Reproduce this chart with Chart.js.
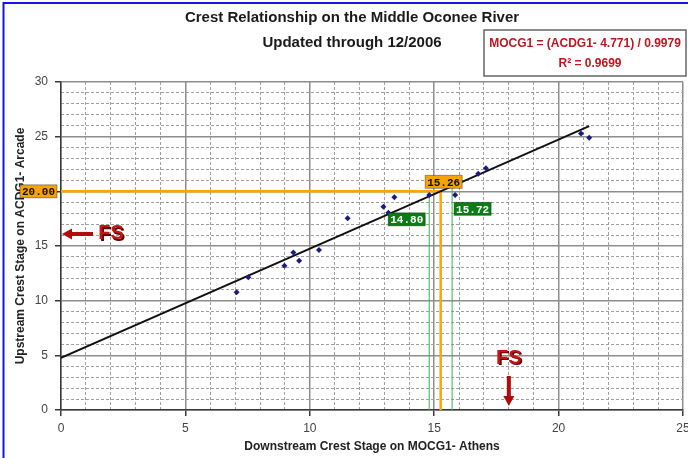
<!DOCTYPE html>
<html>
<head>
<meta charset="utf-8">
<script src="https://cdn.jsdelivr.net/npm/chart.js@4/dist/chart.umd.min.js"></script>
<style>
  html, body { margin: 0; padding: 0; background: #fff; }
  #wrap { width: 688px; height: 458px; position: relative; }
</style>
</head>
<body>
<div id="wrap"><canvas id="grafico" width="688" height="458"></canvas></div>
<script>
// ===============================
// DADOS
// ===============================

const jusante  = [7.06, 7.53, 8.98, 9.34, 9.57, 10.37, 11.52, 12.96, 13.16, 13.40, 14.80, 15.84, 16.77, 17.08, 20.90, 21.23];
const montante = [10.77, 12.14, 13.20, 14.40, 13.66, 14.64, 17.54, 18.60, 18.05, 19.46, 19.67, 19.67, 21.60, 22.10, 25.30, 24.90];

// reta de regressão (extremos)
const retaX = [0, 21.23];
const retaY = [4.77, 25.96];

// leitura em 20.00 ft
const laranjaX = [0, 15.26, 15.26];
const laranjaY = [20, 20, 0];

// limites verdes
const verde1X = [14.80, 14.80];
const verde1Y = [0, 19.54];
const verde2X = [15.72, 15.72];
const verde2Y = [0, 20.46];

// flood stage
const fsMontante = 16.1;
const fsJusante = 18;

const titulo = ["Crest Relationship on the Middle Oconee River", "Updated through 12/2006"];
const equacao = ["MOCG1 = (ACDG1- 4.771) / 0.9979", "R² = 0.9699"];

const pares = (xs, ys) => xs.map((v, i) => ({ x: v, y: ys[i] }));

// ===============================
// PLUGIN DE ANOTAÇÕES
// ===============================

function caixa(ctx, texto, cx, cy, fundo, cor) {
    ctx.save();
    ctx.font = "bold 11px 'Liberation Mono', monospace";
    const w = ctx.measureText(texto).width + 4;
    const h = 13;
    ctx.fillStyle = fundo;
    ctx.fillRect(cx - w / 2, cy - h / 2, w, h);
    ctx.strokeStyle = "rgba(0,0,0,0.35)";
    ctx.lineWidth = 1;
    ctx.strokeRect(cx - w / 2, cy - h / 2, w, h);
    ctx.fillStyle = cor;
    ctx.textAlign = "center";
    ctx.textBaseline = "middle";
    ctx.fillText(texto, cx, cy + 1);
    ctx.restore();
}

function fsTexto(ctx, cx, cy) {
    ctx.save();
    ctx.font = "bold 20px 'Liberation Sans', Arial, sans-serif";
    ctx.textAlign = "center";
    ctx.textBaseline = "middle";
    ctx.fillStyle = "#5a0000";
    ctx.fillText("FS", cx + 1.5, cy + 1.5);
    ctx.fillStyle = "#c41414";
    ctx.fillText("FS", cx, cy);
    ctx.restore();
}

const anotacoes = {
    id: "anotacoes",
    afterDatasetsDraw(chart) {
        const { ctx, scales: { x, y } } = chart;

        caixa(ctx, "20.00", x.getPixelForValue(0) - 22.5, y.getPixelForValue(20), "#f5a300", "#111");
        caixa(ctx, "15.26", x.getPixelForValue(15.26) + 3, y.getPixelForValue(20) - 9.5, "#f5a300", "#111");
        caixa(ctx, "14.80", x.getPixelForValue(14.80) - 22.5, y.getPixelForValue(20) + 28, "#0a7d14", "#fff");
        caixa(ctx, "15.72", x.getPixelForValue(15.72) + 20.5, y.getPixelForValue(20) + 17.5, "#0a7d14", "#fff");

        ctx.save();
        ctx.fillStyle = "#b00c0c";
        ctx.strokeStyle = "#b00c0c";
        // seta esquerda
        const ly = y.getPixelForValue(fsMontante);
        const lx0 = x.getPixelForValue(0) + 1;
        ctx.fillRect(lx0 + 9, ly - 2, 22, 4);
        ctx.beginPath();
        ctx.moveTo(lx0, ly);
        ctx.lineTo(lx0 + 10, ly - 5.5);
        ctx.lineTo(lx0 + 10, ly + 5.5);
        ctx.closePath();
        ctx.fill();
        // seta inferior
        const bx = x.getPixelForValue(fsJusante);
        const by = y.getPixelForValue(0) - 4;
        ctx.fillRect(bx - 2, by - 30, 4, 22);
        ctx.beginPath();
        ctx.moveTo(bx, by);
        ctx.lineTo(bx - 5.5, by - 10);
        ctx.lineTo(bx + 5.5, by - 10);
        ctx.closePath();
        ctx.fill();
        ctx.restore();

        fsTexto(ctx, lx0 + 49, ly);
        fsTexto(ctx, bx, by - 48);
    },
    afterDraw(chart) {
        const { ctx } = chart;
        ctx.save();
        // moldura azul
        ctx.strokeStyle = "#1414e6";
        ctx.lineWidth = 2;
        ctx.strokeRect(3.5, 3, 720, 480);

        // título
        ctx.fillStyle = "#1a1a1a";
        ctx.font = "bold 15px 'Liberation Sans', Arial, sans-serif";
        ctx.textAlign = "center";
        ctx.textBaseline = "middle";
        ctx.fillText(titulo[0], 352, 18);
        ctx.fillText(titulo[1], 352, 43);

        // caixa da equação
        ctx.fillStyle = "#fff";
        ctx.fillRect(484, 30, 202, 46);
        ctx.strokeStyle = "#666";
        ctx.lineWidth = 1.5;
        ctx.strokeRect(484, 30, 202, 46);
        ctx.fillStyle = "#c3141e";
        ctx.font = "bold 12px 'Liberation Sans', Arial, sans-serif";
        ctx.fillText(equacao[0], 585, 44);
        ctx.fillText(equacao[1], 590, 64);
        ctx.restore();
    }
};

// ===============================
// GRÁFICO
// ===============================

const corMaior = "#8e8e8e";
const corMenor = "#a0a0a0";
const corEixo = "#3a3a3a";
const fonteEixo = { family: "'Liberation Sans', Arial, sans-serif", size: 12 };

new Chart(document.getElementById("grafico"), {
    type: "scatter",
    data: {
        datasets: [
            {
                label: "Crests",
                data: pares(jusante, montante),
                pointStyle: "rectRot",
                pointRadius: 3,
                backgroundColor: "#1c1c80",
                borderWidth: 0
            },
            {
                label: "Regressão",
                data: pares(retaX, retaY),
                showLine: true,
                borderColor: "#111",
                borderWidth: 1.8,
                pointRadius: 0
            },
            {
                label: "20.00",
                data: pares(laranjaX, laranjaY),
                showLine: true,
                borderColor: "#ffa500",
                borderWidth: 2.5,
                pointRadius: 0
            },
            {
                label: "14.80",
                data: pares(verde1X, verde1Y),
                showLine: true,
                borderColor: "#3cb44b",
                borderWidth: 1,
                pointRadius: 0
            },
            {
                label: "15.72",
                data: pares(verde2X, verde2Y),
                showLine: true,
                borderColor: "#3cb44b",
                borderWidth: 1,
                pointRadius: 0
            }
        ]
    },
    options: {
        responsive: false,
        animation: false,
        layout: { padding: { top: 82, right: 5, bottom: 0, left: 0 } },
        plugins: {
            legend: { display: false },
            tooltip: { enabled: false },
            title: { display: false }
        },
        scales: {
            x: {
                type: "linear",
                position: "bottom",
                min: 0,
                max: 25,
                ticks: { stepSize: 5, color: "#444", font: fonteEixo, padding: 5 },
                grid: { color: corMaior, lineWidth: 1.5, tickLength: 6, tickColor: corEixo },
                border: { color: corEixo, width: 1.5 },
                title: {
                    display: true,
                    text: "Downstream Crest Stage on MOCG1- Athens",
                    color: "#222",
                    font: { family: "'Liberation Sans', Arial, sans-serif", size: 12, weight: "bold" },
                    padding: { top: 4, bottom: 4 }
                },
                afterFit(s) {
                    s.height = 48;
                    s.paddingLeft = 0;
                    s.paddingRight = 0;
                }
            },
            xMenor: {
                type: "linear",
                position: "bottom",
                min: 0,
                max: 25,
                ticks: { display: false, stepSize: 1 },
                grid: {
                    color: c => (c.tick.value % 5 === 0 ? "rgba(0,0,0,0)" : corMenor),
                    lineWidth: 1,
                    drawTicks: false
                },
                border: { display: false, dash: [3, 2] },
                afterFit(s) { s.height = 0; }
            },
            y: {
                type: "linear",
                position: "left",
                min: 0,
                max: 30,
                ticks: { stepSize: 5, color: "#444", font: fonteEixo, padding: 7 },
                grid: { color: corMaior, lineWidth: 1.5, tickLength: 6, tickColor: corEixo },
                border: { color: corEixo, width: 1.5 },
                title: {
                    display: true,
                    text: "Upstream Crest Stage on ACDG1- Arcade",
                    color: "#222",
                    font: { family: "'Liberation Sans', Arial, sans-serif", size: 12, weight: "bold" },
                    padding: { top: 13, bottom: 0 }
                },
                afterFit(s) {
                    s.width = 61;
                    s.paddingTop = 0;
                    s.paddingBottom = 0;
                }
            },
            yMenor: {
                type: "linear",
                position: "left",
                min: 0,
                max: 30,
                ticks: { display: false, stepSize: 1 },
                grid: {
                    color: c => (c.tick.value % 5 === 0 ? "rgba(0,0,0,0)" : corMenor),
                    lineWidth: 1,
                    drawTicks: false
                },
                border: { display: false, dash: [3, 2] },
                afterFit(s) { s.width = 0; }
            }
        }
    },
    plugins: [anotacoes]
});
</script>
</body>
</html>
